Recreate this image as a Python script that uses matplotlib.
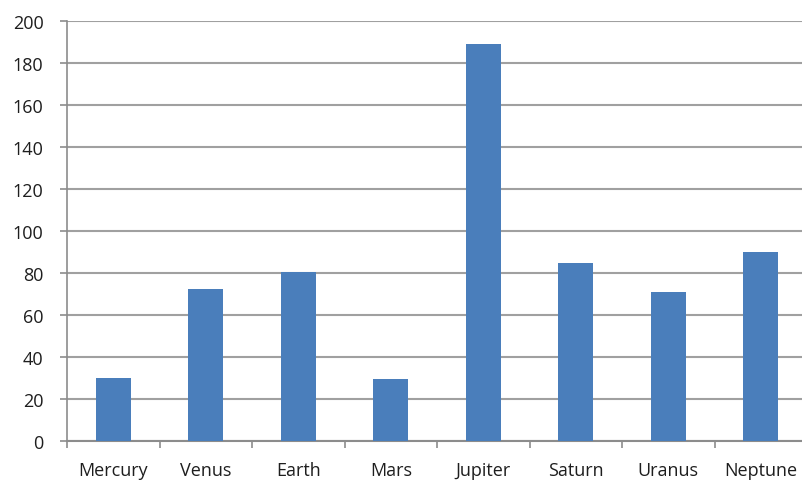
import matplotlib
matplotlib.use("Agg")
import matplotlib.pyplot as plt
import numpy as np

planets = ["Mercury", "Venus", "Earth", "Mars", "Jupiter", "Saturn", "Uranus", "Neptune"]
values = [30, 72.5, 80.5, 29.5, 189, 85, 71, 90]
yticks = [0, 20, 40, 60, 80, 100, 120, 140, 160, 180, 200]

plt.rcParams['font.family'] = ['Open Sans', 'DejaVu Sans']

fig = plt.figure(figsize=(8.02, 4.81), dpi=100)
ax = fig.add_axes([67/802, 39/481, 740/802, 420/481])

x = np.arange(len(planets))
ax.bar(x, values, width=0.38, color="#4a7ebb", zorder=3)

ax.set_xlim(-0.5, len(planets) - 0.5)
ax.set_ylim(0, 200)
ax.set_yticks(yticks)
ax.set_yticklabels([str(v) for v in yticks], fontsize=13, color="#1e1e1e")
ax.yaxis.grid(True, color="#a0a0a0", linewidth=1.5, zorder=0)
ax.set_axisbelow(True)

ax.set_xticks(x)
ax.set_xticklabels(planets, fontsize=13, color="#1e1e1e")
ax.tick_params(axis="x", which="major", length=0, pad=14.5)
ax.set_xticks(np.arange(-0.5, len(planets) + 0.5, 1), minor=True)
ax.tick_params(axis="x", which="minor", length=5, color="#8c8c8c", width=1.2)
ax.tick_params(axis="y", length=5, color="#8c8c8c", width=1.2, pad=12)

for s in ["top", "right"]:
    ax.spines[s].set_visible(False)
ax.spines["left"].set_color("#8c8c8c")
ax.spines["left"].set_linewidth(1.2)
ax.spines["bottom"].set_color("#8c8c8c")
ax.spines["bottom"].set_linewidth(1.5)

fig.savefig("out.png", dpi=100)
